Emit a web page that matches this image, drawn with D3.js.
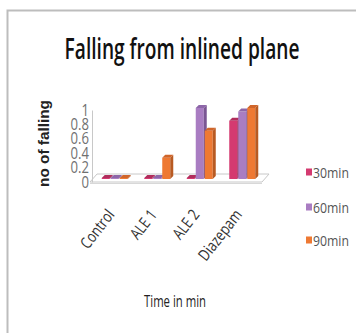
<!DOCTYPE html>
<html>
<head>
<meta charset="utf-8">
<script src="https://cdn.jsdelivr.net/npm/d3@7"></script>
<style>
  html, body { margin: 0; padding: 0; background: #fff; }
  svg { display: block; }
  text { font-family: "Open Sans", sans-serif; }
</style>
</head>
<body>
<div id="chart"></div>
<script>
const categories = ['Control', 'ALE 1', 'ALE 2', 'Diazepam'];
const seriesNames = ['30min', '60min', '90min'];
const values30 = [0, 0, 0, 0.82];
const values60 = [0, 0, 1.0, 0.95];
const values90 = [0, 0.3, 0.68, 1.0];
const yTicks = [0, 0.2, 0.4, 0.6, 0.8, 1];

const colors = ['#d43a70', '#a97dc2', '#ee7933'];
const sideColors = ['#9c2550', '#7a5693', '#b85a22'];
const topColors = ['#b02d5c', '#8d66a8', '#d0652a'];

const width = 356, height = 333;
const series = [values30, values60, values90];

const svg = d3.select('#chart').append('svg')
  .attr('width', width)
  .attr('height', height);

// frame (top and left only visible)
svg.append('path')
  .attr('d', 'M7.5,333 V10.5 H356')
  .attr('fill', 'none')
  .attr('stroke', '#bdbdbd')
  .attr('stroke-width', 2);

// narrow (calibri-like) text: squeeze horizontally, optionally to a target width
const label = (parent, tx, ty, rot, txt, size, anchor, fill, sx, target, weight) => {
  const g = parent.append('g')
    .attr('transform', `translate(${tx},${ty})` + (rot ? ` rotate(${rot})` : ''));
  const t = g.append('text')
    .attr('text-anchor', anchor)
    .attr('fill', fill)
    .style('font-size', size + 'px')
    .style('font-weight', weight || 'normal')
    .text(txt);
  if (target) sx = target / t.node().getComputedTextLength();
  t.attr('transform', `scale(${sx},1)`);
  return g;
};

// title
label(svg, 182, 59, 0, 'Falling from inlined plane', 28, 'middle', '#111', 1, 235, 600);

// scales
const x = d3.scaleBand().domain(categories).range([95, 265]);
const y = d3.scaleLinear().domain([0, 1]).range([182, 110]);   // back wall / labels
const yb = d3.scaleLinear().domain([0, 1]).range([179, 108]);  // bar fronts

const depth = { dx: 7, dy: -8 };
const bw = 8, bstep = 9, side = { dx: 3, dy: -3 };

// floor
const fl = 90, fr = 262, fy = 182;
svg.append('path')
  .attr('d', `M${fl},${fy} L${fr},${fy} L${fr + depth.dx},${fy + depth.dy} L${fl + depth.dx},${fy + depth.dy} Z`)
  .attr('fill', '#fff')
  .attr('stroke', '#c8c8c8')
  .attr('stroke-width', 1);
svg.append('line')
  .attr('x1', fl).attr('x2', fr)
  .attr('y1', fy + 1.5).attr('y2', fy + 1.5)
  .attr('stroke', '#d8d8d8');

// y axis
const tsx = 0.82;
const yAxis = g => g
  .attr('transform', 'translate(92,0)')
  .call(d3.axisLeft(y).tickValues(yTicks).tickSize(0).tickPadding(3)
    .tickFormat(d => d === 0 || d === 1 ? d : d3.format('.1f')(d)))
  .call(g => g.select('.domain').attr('stroke', '#c8c8c8'))
  .call(g => g.selectAll('text')
    .attr('x', -3 / tsx)
    .attr('transform', `scale(${tsx},1)`)
    .attr('fill', '#707070')
    .style('font-size', '16px')
    .style('font-family', '"Open Sans", sans-serif'));
svg.append('g').call(yAxis);

// y title
const yTitle = svg.append('text')
  .attr('transform', 'translate(49,143.5) rotate(-90)')
  .attr('text-anchor', 'middle')
  .attr('fill', '#222')
  .style('font-family', '"Liberation Sans", Arial, sans-serif')
  .style('font-weight', 'bold')
  .style('font-size', '13px')
  .text('no of falling');
const tw = yTitle.node().getComputedTextLength();
yTitle.style('font-size', (13 * 87 / tw) + 'px');

// bars
const bars = [];
categories.forEach((c, ci) => {
  series.forEach((vals, si) => {
    bars.push({ cat: c, si: si, value: vals[ci] });
  });
});

const gBars = svg.append('g');
bars.forEach(d => {
  const cx = x(d.cat) + x.bandwidth() / 2;
  const x0 = cx - 14.5 + d.si * bstep;
  const y0 = yb(0);
  let y1 = yb(d.value);
  if (y0 - y1 < 1) y1 = y0 - 1;
  const g = gBars.append('g');
  // front
  g.append('rect')
    .attr('x', x0).attr('y', y1)
    .attr('width', bw).attr('height', y0 - y1)
    .attr('fill', colors[d.si]);
  // side
  g.append('path')
    .attr('d', `M${x0 + bw},${y1} L${x0 + bw + side.dx},${y1 + side.dy} L${x0 + bw + side.dx},${y0 + side.dy} L${x0 + bw},${y0} Z`)
    .attr('fill', sideColors[d.si]);
  // top
  g.append('path')
    .attr('d', `M${x0},${y1} L${x0 + side.dx},${y1 + side.dy} L${x0 + bw + side.dx},${y1 + side.dy} L${x0 + bw},${y1} Z`)
    .attr('fill', topColors[d.si]);
});

// category labels
const gCat = svg.append('g');
categories.forEach(c => {
  label(gCat, x(c) + x.bandwidth() / 2 - 1, 215, -52, c, 16, 'end', '#333', 0.8);
});

// x title
label(svg, 175, 307, 0, 'Time in min', 15.5, 'middle', '#222', 1, 62);

// legend
const legendY = [172, 207, 240];
const legend = svg.append('g');
seriesNames.forEach((s, i) => {
  legend.append('rect')
    .attr('x', 306).attr('y', legendY[i] - 3.5)
    .attr('width', 6).attr('height', 7)
    .attr('fill', colors[i]);
  label(legend, 313, legendY[i] + 5.5, 0, s, 15, 'start', '#555', 1, 36);
});
</script>
</body>
</html>
